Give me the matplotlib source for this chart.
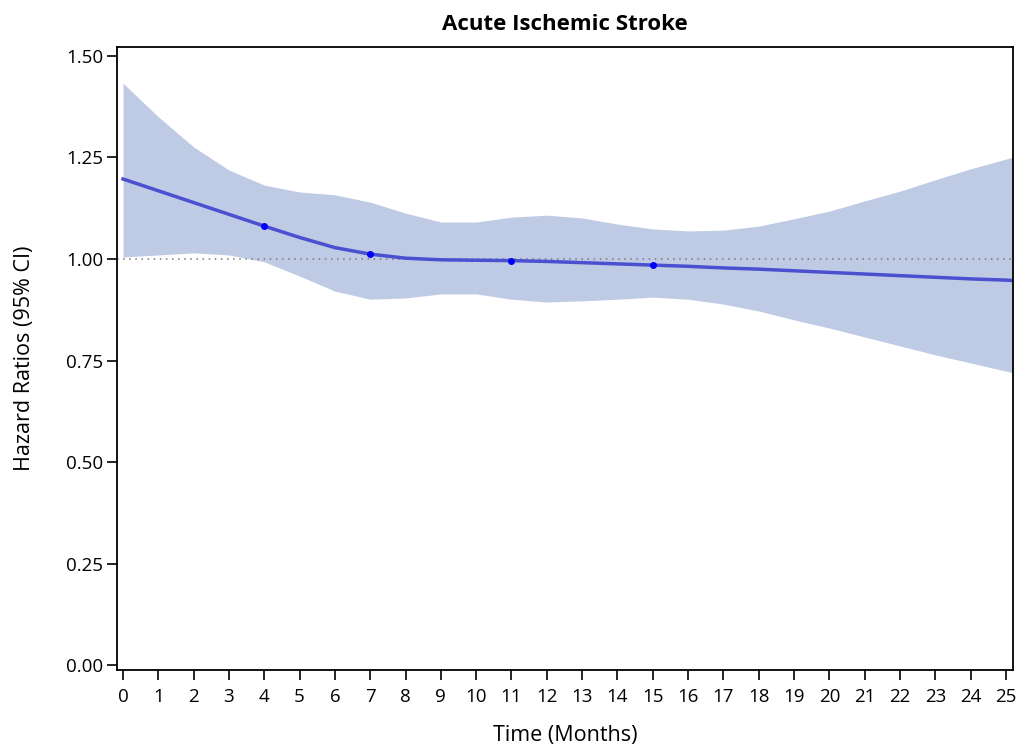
import matplotlib
matplotlib.use("Agg")
import matplotlib.pyplot as plt

months = [0, 1, 2, 3, 4, 5, 6, 7, 8, 9, 10, 11, 12, 13, 14, 15, 16, 17, 18, 19,
          20, 21, 22, 23, 24, 25, 25.2]
hr = [1.197, 1.168, 1.139, 1.110, 1.081, 1.053, 1.028, 1.012, 1.002, 0.998,
      0.997, 0.996, 0.994, 0.991, 0.988, 0.985, 0.982, 0.978, 0.975, 0.971,
      0.967, 0.963, 0.959, 0.955, 0.951, 0.948, 0.947]
upper = [1.433, 1.350, 1.276, 1.219, 1.182, 1.165, 1.158, 1.140, 1.113, 1.091,
         1.091, 1.103, 1.108, 1.101, 1.086, 1.074, 1.069, 1.071, 1.081, 1.099,
         1.118, 1.143, 1.167, 1.195, 1.222, 1.246, 1.251]
lower = [1.005, 1.010, 1.015, 1.010, 0.993, 0.958, 0.921, 0.901, 0.904, 0.914,
         0.914, 0.901, 0.894, 0.897, 0.901, 0.906, 0.901, 0.889, 0.872, 0.850,
         0.830, 0.808, 0.786, 0.764, 0.744, 0.724, 0.720]
knot_x = [4, 7, 11, 15]
knot_y = [1.081, 1.012, 0.996, 0.985]
x_ticks = list(range(0, 26))
y_ticks = [0.00, 0.25, 0.50, 0.75, 1.00, 1.25, 1.50]

plt.rcParams['font.family'] = ['Open Sans', 'DejaVu Sans']

fig = plt.figure(figsize=(10.32, 7.5), dpi=100)
ax = fig.add_axes([117 / 1032, 80 / 750, 896 / 1032, 623 / 750])

ax.fill_between(months, lower, upper, color='#bfcae4', linewidth=0)
ax.axhline(1.0, color='#777777', linestyle=(0, (1, 3)), linewidth=1.1)
ax.plot(months, hr, color='#4a50d0', linewidth=2.5)
ax.plot(knot_x, knot_y, 'o', color='#0000ff', markersize=4)

ax.set_xlim(-0.17, 25.2)
ax.set_ylim(-0.012, 1.522)
ax.set_xticks(x_ticks)
ax.set_yticks(y_ticks)
ax.set_yticklabels(['%.2f' % v for v in y_ticks])
ax.tick_params(axis='both', labelsize=13.5, length=7, width=1.2, colors='black')
ax.tick_params(axis='x', pad=6)
ax.tick_params(axis='y', pad=3)
for s in ax.spines.values():
    s.set_linewidth(1.3)

ax.set_title('Acute Ischemic Stroke', fontsize=16, fontweight='bold', pad=12)
ax.set_xlabel('Time (Months)', fontsize=15.5, labelpad=14)
ax.set_ylabel('Hazard Ratios (95% CI)', fontsize=15.5, labelpad=22)

fig.savefig('out.png', dpi=100)
